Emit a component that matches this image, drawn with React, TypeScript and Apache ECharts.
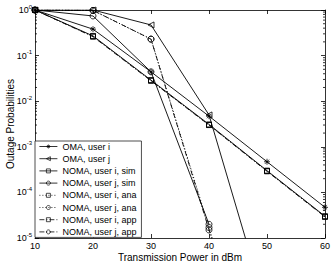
import React, { useEffect, useRef } from "react";
import * as echarts from "echarts";

const powers = [10, 20, 30, 40, 50, 60];
const omaUserI = [1, 0.38, 0.044, 0.0047, 4.7e-4, 4.7e-5];
const omaUserJ = [1, 1, 0.47, 0.005, 2.5e-7, 1e-9];
const nomaISim = [1, 0.27, 0.029, 0.0031, 3.0e-4, 3.0e-5];
const nomaJSim = [1, 0.74, 0.044, 2.0e-5, null, null];
const nomaIAna = [1, 0.265, 0.0285, 0.003, 2.95e-4, 2.95e-5];
const nomaJAna = [1, 0.98, 0.23, 1.7e-5, 1e-9, 1e-13];
const nomaIApp = [1, 0.26, 0.028, 0.003, 2.9e-4, 2.9e-5];
const nomaJApp = [1, 0.98, 0.23, 1.5e-5, 1e-9, 1e-13];

const yDecades = [1e-5, 1e-4, 1e-3, 1e-2, 1e-1, 1];
const minorMultipliers = [2, 3, 4, 5, 6, 7, 8, 9];

const FONT = "'Liberation Sans', Arial, Helvetica, sans-serif";
const STAR = "path://M5 0 L5 10 M0 5 L10 5 M1.5 1.5 L8.5 8.5 M8.5 1.5 L1.5 8.5";
const TRI_LEFT = "path://M0 5 L10 0 L10 10 Z";
const DOTTED = [1, 2];
const DASHDOT = [5, 2, 1, 2];

export default function App() {
  const ref = useRef<HTMLDivElement>(null);
  useEffect(() => {
    if (!ref.current) return;
    const chart = echarts.init(ref.current, null, { renderer: "svg" });

    const mk = (name: string, values: (number | null)[], symbol: string, size: number, dash: any) => ({
      name,
      type: "line",
      data: values.map((v, i) => [powers[i], v]),
      symbol,
      symbolSize: size,
      showSymbol: true,
      connectNulls: false,
      clip: true,
      itemStyle: { color: "transparent", borderColor: "#000", borderWidth: 0.8 },
      lineStyle: { color: "#000", width: 0.9, type: dash },
      z: 3,
    });

    const minorVals: number[] = [];
    yDecades.slice(0, 5).forEach((d) => minorMultipliers.forEach((m) => minorVals.push(d * m)));

    const series: any[] = [
      mk("OMA, user i", omaUserI, STAR, 6, "solid"),
      mk("OMA, user j", omaUserJ, TRI_LEFT, 6, "solid"),
      mk("NOMA, user i, sim", nomaISim, "rect", 5, "solid"),
      mk("NOMA, user j, sim", nomaJSim, "circle", 6, "solid"),
      mk("NOMA, user i, ana", nomaIAna, "rect", 5, DOTTED),
      mk("NOMA, user j, ana", nomaJAna, "circle", 6, DOTTED),
      mk("NOMA, user i, app", nomaIApp, "rect", 5, DASHDOT),
      mk("NOMA, user j, app", nomaJApp, "circle", 6, DASHDOT),
      {
        type: "custom",
        silent: true,
        clip: false,
        z: 1,
        data: minorVals.map((v) => [10, v]),
        renderItem: (params: any, api: any) => {
          const v = api.value(1);
          const l = api.coord([10, v]);
          const r = api.coord([60, v]);
          return {
            type: "group",
            children: [
              { type: "line", shape: { x1: l[0], y1: l[1], x2: l[0] + 2, y2: l[1] }, style: { stroke: "#000", lineWidth: 0.8 } },
              { type: "line", shape: { x1: r[0] - 2, y1: r[1], x2: r[0], y2: r[1] }, style: { stroke: "#000", lineWidth: 0.8 } },
            ],
          };
        },
      },
    ];

    const expLabel = (v: number) => {
      const e = Math.round(Math.log10(v));
      return `{b|10}{e|${e}}`;
    };

    chart.setOption({
      animation: false,
      backgroundColor: "#fff",
      textStyle: { fontFamily: FONT, color: "#000" },
      grid: { left: 35, right: 7, top: 10, bottom: 25, containLabel: false, outerBoundsMode: "none" },
      legend: {
        data: series.slice(0, 8).map((s) => s.name),
        orient: "vertical",
        left: 35,
        top: 141,
        itemWidth: 18,
        itemHeight: 5,
        itemGap: 3.2,
        padding: [1, 5, 1, 4],
        backgroundColor: "#fff",
        borderColor: "#222",
        borderWidth: 0.8,
        borderRadius: 0,
        selectedMode: false,
        itemStyle: { borderWidth: 0.7 },
        lineStyle: { width: 0.8 },
        textStyle: { fontSize: 9, fontFamily: FONT, color: "#000", lineHeight: 9 },
      },
      xAxis: [
        {
          type: "value",
          min: 10,
          max: 60,
          interval: 10,
          name: "Transmission Power in dBm",
          nameLocation: "middle",
          nameGap: 14,
          nameMoveOverlap: false,
          nameTextStyle: { fontSize: 10, fontFamily: FONT, color: "#000" },
          axisLine: { show: true, onZero: false, lineStyle: { color: "#000", width: 0.8 } },
          axisTick: { show: true, inside: true, length: 4, lineStyle: { color: "#000", width: 0.8 } },
          axisLabel: { fontSize: 9, color: "#000", margin: 3, fontFamily: FONT },
          splitLine: { show: false },
        },
        {
          type: "value",
          position: "top",
          min: 10,
          max: 60,
          interval: 10,
          axisLine: { show: true, onZero: false, lineStyle: { color: "#000", width: 0.8 } },
          axisTick: { show: true, inside: true, length: 4, lineStyle: { color: "#000", width: 0.8 } },
          axisLabel: { show: false },
          splitLine: { show: false },
        },
      ],
      yAxis: [
        {
          type: "log",
          logBase: 10,
          min: 1e-5,
          max: 1,
          name: "Outage Probabilities",
          nameLocation: "middle",
          nameGap: 20,
          nameMoveOverlap: false,
          nameTextStyle: { fontSize: 10, fontFamily: FONT, color: "#000" },
          axisLine: { show: true, onZero: false, lineStyle: { color: "#000", width: 0.8 } },
          axisTick: { show: true, inside: true, length: 4, lineStyle: { color: "#000", width: 0.8 } },
          axisLabel: {
            formatter: expLabel,
            margin: 3,
            color: "#000",
            rich: {
              b: { fontSize: 9, fontFamily: FONT, color: "#000" },
              e: { fontSize: 6, fontFamily: FONT, color: "#000", padding: [0, 0, 7, 0] },
            },
          },
          splitLine: { show: false },
        },
        {
          type: "log",
          logBase: 10,
          min: 1e-5,
          max: 1,
          position: "right",
          axisLine: { show: true, onZero: false, lineStyle: { color: "#000", width: 0.8 } },
          axisTick: { show: true, inside: true, length: 4, lineStyle: { color: "#000", width: 0.8 } },
          axisLabel: { show: false },
          splitLine: { show: false },
        },
      ],
      series,
    });
    return () => chart.dispose();
  }, []);

  return <div ref={ref} style={{ position: "fixed", left: 0, top: 0, width: 332, height: 263 }} />;
}
